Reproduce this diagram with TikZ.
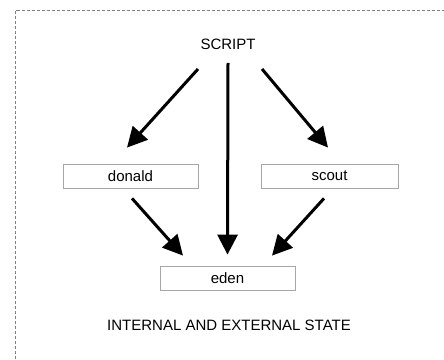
\documentclass[tikz,border=0pt]{standalone}
\usepackage{fontspec}
\setmainfont{Liberation Sans}
\usepackage{tikz}
\usetikzlibrary{arrows.meta}
\usetikzlibrary{positioning,calc}

\tikzset{
  label/.style={inner sep=0pt, font=\fontsize{15}{17}\selectfont},
  actor/.style={draw=black!35, line width=0.8pt, minimum width=135pt,
    minimum height=24pt, inner sep=0pt, font=\fontsize{15}{17}\selectfont},
  flow/.style={->, line width=3pt},
}

\begin{document}
\begin{tikzpicture}[x=1pt,y=1pt,>={Triangle[length=20pt,width=20pt]}]
				\useasboundingbox (0,0) rectangle (444,359);
				\draw[black!50, line width=0.7pt, dash pattern=on 3pt off 2pt] (15,0) |- (444,348.5);

				\node[label] (script) at (228,315) {SCRIPT};
				\node[actor] (donald) at (130.5,183) {donald};
				\node[actor, minimum width=137pt] (scout) at (329.5,183) {scout};
				\node[actor] (eden) at (227.5,81) {eden};
				\node[label] (state) at (229,34) {INTERNAL AND EXTERNAL STATE};

				\draw[flow] ($(script)+(-30,-25)$) -- ($(donald.north)+(-3.5,16)$);
				\draw[flow] ($(script)+(0,-19)$) -- ($(eden.north)+(0,11)$);
				\draw[flow] ($(script)+(34,-25)$) -- ($(scout.north)+(-1.5,16)$);
				\draw[flow] ($(donald.south)+(1.5,-10)$) -- ($(eden.north)+(-44.5,10)$);
				\draw[flow] ($(scout.south)+(-5.5,-10)$) -- ($(eden.north)+(44.5,10)$);
			\end{tikzpicture}
\end{document}
